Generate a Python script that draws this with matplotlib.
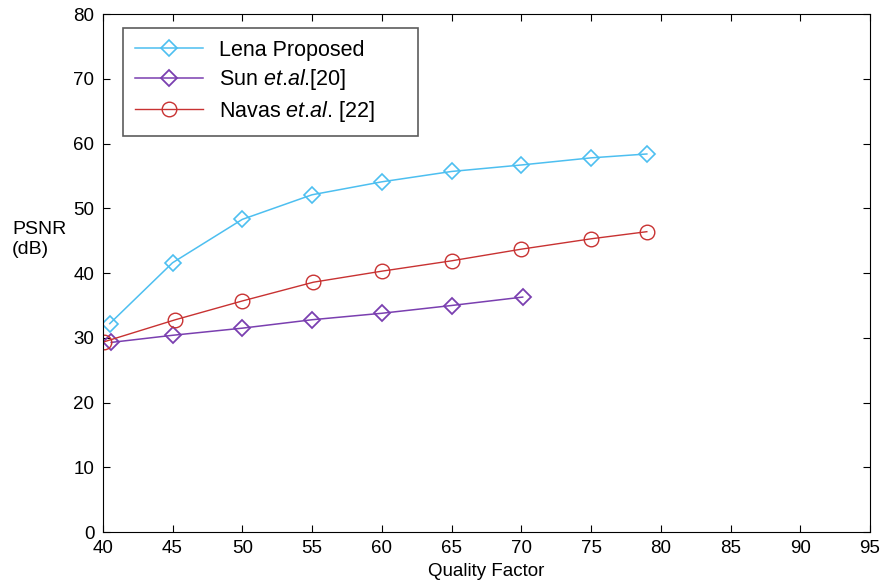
import numpy as np
import matplotlib
matplotlib.use("Agg")
import matplotlib.pyplot as plt

# PSNR vs quality factor
x_lena = [40.5, 45, 50, 55, 60, 65, 70, 75, 79]
y_lena = [32.2, 41.6, 48.3, 52.1, 54.1, 55.7, 56.7, 57.8, 58.4]

x_sun = [40.6, 45, 50, 55, 60, 65, 70.1]
y_sun = [29.3, 30.4, 31.5, 32.8, 33.8, 35.0, 36.3]

x_navas = [40.1, 45.2, 50, 55.1, 60, 65, 70, 75, 79]
y_navas = [29.4, 32.8, 35.7, 38.6, 40.3, 41.9, 43.7, 45.3, 46.4]

xticks = [40, 45, 50, 55, 60, 65, 70, 75, 80, 85, 90, 95]
yticks = [0, 10, 20, 30, 40, 50, 60, 70, 80]

plt.rcParams['font.family'] = ['Liberation Sans', 'DejaVu Sans']
plt.rcParams['mathtext.fontset'] = 'custom'
plt.rcParams['mathtext.rm'] = 'Liberation Sans'
plt.rcParams['mathtext.it'] = 'Liberation Sans:italic'
plt.rcParams['xtick.direction'] = 'in'
plt.rcParams['ytick.direction'] = 'in'

fig = plt.figure(figsize=(8.86, 5.88), dpi=100)
ax = fig.add_axes([0.116, 0.095, 0.866, 0.881])

ax.plot(x_lena, y_lena, c="#4dbff0", lw=1.1, marker="D", ms=8.5, mfc="none",
        mec="#4dbff0", mew=1.2, label="Lena Proposed")
ax.plot(x_sun, y_sun, c="#7a3fb0", lw=1.1, marker="D", ms=8.5, mfc="none",
        mec="#7a3fb0", mew=1.3, label=r"Sun $\it{et}$.$\it{al}$.[20]")
ax.plot(x_navas, y_navas, c="#c83232", lw=1.0, marker="o", ms=10.5, mfc="none",
        mec="#c83232", mew=1.0, label=r"Navas $\it{et}$.$\it{al}$. [22]")

ax.set_xlim(40, 95)
ax.set_ylim(0, 80)
ax.set_xticks(xticks)
ax.set_yticks(yticks)
ax.tick_params(labelsize=13.5, top=True, right=True, length=5, pad=6)
ax.set_xlabel("Quality Factor", fontsize=13.5, labelpad=4)
ax.set_ylabel("PSNR\n(dB)", fontsize=14, rotation=0, ha="left", va="center",
              multialignment="left")
ax.yaxis.set_label_coords(-0.118, 0.565)

# legend box stretched to the width seen in the original
leg = ax.legend(loc="upper left", bbox_to_anchor=(0.026, 0.0, 0.385, 0.973),
                mode="expand", fontsize=15.5,
                frameon=True, fancybox=False, edgecolor="#333333",
                handlelength=3.2, borderpad=0.55, labelspacing=0.3,
                borderaxespad=0, handletextpad=0.7)
leg.get_frame().set_linewidth(1.2)

fig.savefig("out.png", dpi=100)
